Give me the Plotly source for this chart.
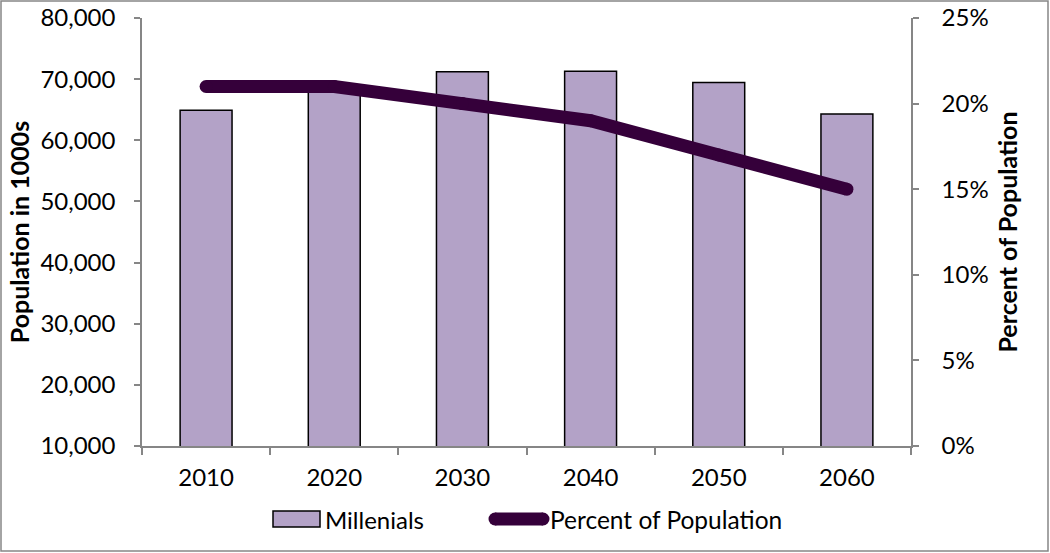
import plotly.graph_objects as go

years = ["2010", "2020", "2030", "2040", "2050", "2060"]
millenials = [64900, 68800, 71200, 71300, 69450, 64300]
percent = [0.21, 0.21, 0.20, 0.19, 0.17, 0.15]

FONT = "Lato"
W, H = 1050, 553
L, R, T, B = 142, 911, 18, 446
pw, ph = R - L, B - T

BAR_COLOR = "#B3A2C7"
LINE_COLOR = "#35003A"

def px_x(x):
    return (x - L) / pw

def px_y(y):
    return (B - y) / ph

fig = go.Figure()
fig.add_trace(go.Bar(
    x=years, y=millenials, name="Millenials",
    marker=dict(color=BAR_COLOR, line=dict(color="#000000", width=1.5)),
    showlegend=False,
))
fig.add_trace(go.Scatter(
    x=years, y=percent, name="Percent of Population", yaxis="y2",
    mode="lines+markers",
    line=dict(color=LINE_COLOR, width=13),
    marker=dict(color=LINE_COLOR, size=13),
    showlegend=False,
))

axis_gray = "#868686"
fig.update_layout(
    width=W, height=H,
    margin=dict(l=L, r=W - R, t=T, b=H - B, autoexpand=False),
    paper_bgcolor="white", plot_bgcolor="white",
    font=dict(family=FONT, size=24, color="#000000"),
    bargap=0.595,
    showlegend=False,
    xaxis=dict(
        type="category", showline=True, linecolor=axis_gray, linewidth=1.5,
        ticks="outside", ticklen=7, tickcolor=axis_gray, tickwidth=1.5,
        tickson="boundaries", showgrid=False, tickfont=dict(size=24),
        ticklabelstandoff=9,
    ),
    yaxis=dict(
        range=[10000, 80000], dtick=10000, tickformat=",",
        showline=True, linecolor=axis_gray, linewidth=1.5,
        ticks="outside", ticklen=6, tickcolor=axis_gray, tickwidth=1.5,
        showgrid=False, zeroline=False, tickfont=dict(size=24),
        ticklabelstandoff=14,
        title=dict(text="<b>Population in 1000s</b>", font=dict(size=25), standoff=4),
    ),
    yaxis2=dict(
        range=[0, 0.25], dtick=0.05, tickformat=".0%", overlaying="y", side="right",
        showline=True, linecolor=axis_gray, linewidth=1.5,
        ticks="outside", ticklen=6, tickcolor=axis_gray, tickwidth=1.5,
        showgrid=False, zeroline=False, tickfont=dict(size=24),
        ticklabelstandoff=18,
        title=dict(text="<b>Percent of Population</b>", font=dict(size=25), standoff=12),
    ),
)

# outer chart border
fig.add_shape(
    type="rect", xref="paper", yref="paper",
    x0=px_x(1), x1=px_x(W - 2), y0=px_y(H - 2), y1=px_y(1),
    line=dict(color="#868686", width=1.5), fillcolor="rgba(0,0,0,0)", layer="below",
)

# custom legend (bar swatch, thick line swatch, labels)
ly = 519
fig.add_shape(type="rect", xref="paper", yref="paper",
              x0=px_x(273), x1=px_x(320), y0=px_y(527), y1=px_y(511),
              line=dict(color="#000000", width=1.5), fillcolor=BAR_COLOR)
fig.add_annotation(xref="paper", yref="paper", x=px_x(323), y=px_y(ly),
                   text="Millenials", showarrow=False, xanchor="left", yanchor="middle",
                   font=dict(size=24))
fig.add_shape(type="line", xref="paper", yref="paper",
              x0=px_x(495), x1=px_x(543), y0=px_y(ly), y1=px_y(ly),
              line=dict(color=LINE_COLOR, width=13))
for cx in (495, 543):
    fig.add_shape(type="circle", xref="paper", yref="paper",
                  x0=px_x(cx - 6.5), x1=px_x(cx + 6.5), y0=px_y(ly + 6.5), y1=px_y(ly - 6.5),
                  line=dict(width=0), fillcolor=LINE_COLOR)
fig.add_annotation(xref="paper", yref="paper", x=px_x(548), y=px_y(ly),
                   text="Percent of Population", showarrow=False, xanchor="left", yanchor="middle",
                   font=dict(size=24.5))

fig.write_html("out.html", config={"displayModeBar": False},
               post_script="document.body.style.margin='0px';")
